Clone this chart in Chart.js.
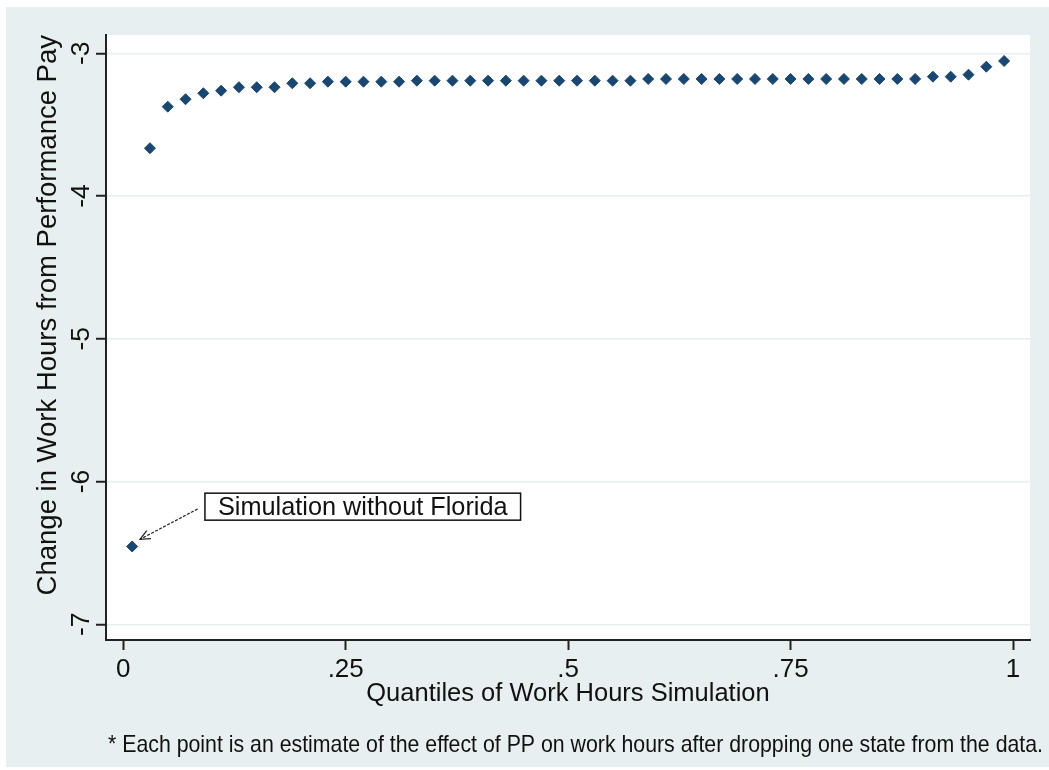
<!DOCTYPE html>
<html><head><meta charset="utf-8">
<script src="https://cdn.jsdelivr.net/npm/chart.js@4"></script>
<style>
html,body{margin:0;padding:0;background:#fff;}
#wrap{position:absolute;left:6px;top:7px;width:1043px;height:760px;background:#e8eff1;}
canvas{display:block;}
</style></head><body>
<div id="wrap"><canvas id="c" width="1043" height="760"></canvas></div>
<script>
// ---- data ----
const quantiles = [0.01,0.03,0.05,0.07,0.09,0.11,0.13,0.15,0.17,0.19,
                   0.21,0.23,0.25,0.27,0.29,0.31,0.33,0.35,0.37,0.39,
                   0.41,0.43,0.45,0.47,0.49,0.51,0.53,0.55,0.57,0.59,
                   0.61,0.63,0.65,0.67,0.69,0.71,0.73,0.75,0.77,0.79,
                   0.81,0.83,0.85,0.87,0.89,0.91,0.93,0.95,0.97,0.99];
const effects = [-6.455,-3.665,-3.374,-3.322,-3.280,-3.262,-3.238,-3.238,-3.238,-3.210,
                 -3.210,-3.199,-3.199,-3.199,-3.199,-3.199,-3.192,-3.192,-3.192,-3.192,
                 -3.192,-3.192,-3.192,-3.192,-3.192,-3.192,-3.192,-3.192,-3.192,-3.180,
                 -3.180,-3.180,-3.180,-3.180,-3.180,-3.180,-3.180,-3.180,-3.180,-3.180,
                 -3.180,-3.180,-3.180,-3.180,-3.180,-3.164,-3.164,-3.150,-3.094,-3.054];
const xTickValues = [0, 0.25, 0.5, 0.75, 1];
const xTickLabels = ['0', '.25', '.5', '.75', '1'];
const yTickValues = [-7, -6, -5, -4, -3];
const yTickLabels = ['-7', '-6', '-5', '-4', '-3'];
const xAxisTitle = 'Quantiles of Work Hours Simulation';
const yAxisTitle = 'Change in Work Hours from Performance Pay';
const footnote = '* Each point is an estimate of the effect of PP on work hours after dropping one state from the data.';
const noteText = 'Simulation without Florida';

// ---- annotation placement (data coordinates) ----
const notePlace = { boxX: 0.0918, boxY: -6.176, fromX: 0.0836, fromY: -6.192, toX: 0.0188, toY: -6.405 };

const FONT = '"Liberation Sans", Arial, sans-serif';
const INK = '#111';
const MARK = '#1a476f';

const plotBg = {
  id: 'plotBg',
  beforeDraw(chart) {
    const { ctx, chartArea: a } = chart;
    ctx.save();
    ctx.fillStyle = '#ffffff';
    ctx.fillRect(a.left, a.top, a.right - a.left, a.bottom - a.top);
    ctx.restore();
  }
};

const footNote = {
  id: 'footNote',
  afterDraw(chart) {
    const { ctx, chartArea: a } = chart;
    ctx.save();
    ctx.font = '24px ' + FONT;
    ctx.fillStyle = INK;
    ctx.textAlign = 'left';
    ctx.textBaseline = 'middle';
    ctx.fillText(footnote, a.left + 2, chart.height - 22, 935);
    ctx.restore();
  }
};

const noteBox = {
  id: 'noteBox',
  afterDatasetsDraw(chart) {
    const { ctx, scales: { x, y } } = chart;
    ctx.save();
    // arrow
    const x1 = x.getPixelForValue(notePlace.fromX), y1 = y.getPixelForValue(notePlace.fromY);
    const x2 = x.getPixelForValue(notePlace.toX), y2 = y.getPixelForValue(notePlace.toY);
    ctx.strokeStyle = '#222';
    ctx.lineWidth = 1.2;
    ctx.setLineDash([3, 1.5]);
    ctx.beginPath(); ctx.moveTo(x1, y1); ctx.lineTo(x2, y2); ctx.stroke();
    ctx.setLineDash([]);
    const ang = Math.atan2(y2 - y1, x2 - x1), L = 11, spread = 0.42;
    ctx.beginPath();
    ctx.moveTo(x2 - L * Math.cos(ang - spread), y2 - L * Math.sin(ang - spread));
    ctx.lineTo(x2, y2);
    ctx.lineTo(x2 - L * Math.cos(ang + spread), y2 - L * Math.sin(ang + spread));
    ctx.stroke();
    // box + text
    ctx.font = '25.3px ' + FONT;
    const tw = ctx.measureText(noteText).width;
    const bx = x.getPixelForValue(notePlace.boxX), by = y.getPixelForValue(notePlace.boxY);
    const pad = 13, bh = 27;
    ctx.fillStyle = '#fff';
    ctx.fillRect(bx, by - bh / 2, tw + 2 * pad, bh);
    ctx.strokeStyle = '#111';
    ctx.lineWidth = 1.5;
    ctx.strokeRect(bx, by - bh / 2, tw + 2 * pad, bh);
    ctx.fillStyle = INK;
    ctx.textBaseline = 'middle';
    ctx.textAlign = 'left';
    ctx.fillText(noteText, bx + pad, by + 1);
    ctx.restore();
  }
};

new Chart(document.getElementById('c'), {
  type: 'scatter',
  data: {
    datasets: [{
      data: quantiles.map((q, i) => ({ x: q, y: effects[i] })),
      pointStyle: 'rectRot',
      pointRadius: 5.5,
      pointBorderWidth: 1,
      backgroundColor: MARK,
      borderColor: MARK
    }]
  },
  options: {
    responsive: false,
    devicePixelRatio: 1,
    animation: false,
    layout: { padding: { left: 0, right: 19, top: 28, bottom: 0 } },
    plugins: {
      legend: { display: false },
      tooltip: { enabled: false },
      title: { display: false }
    },
    scales: {
      x: {
        type: 'linear', min: -0.0194, max: 1.0191,
        afterBuildTicks(s) { s.ticks = xTickValues.map(v => ({ value: v })); },
        afterFit(s) { s.height = 127; },
        ticks: {
          autoSkip: false, maxRotation: 0, minRotation: 0, padding: 4, color: INK,
          font: { family: FONT, size: 26 },
          callback: v => xTickLabels[xTickValues.indexOf(v)]
        },
        grid: { display: true, drawOnChartArea: false, drawTicks: true, tickLength: 10, tickColor: '#222', tickWidth: 2 },
        border: { display: true, color: '#222', width: 2 },
        title: { display: true, text: xAxisTitle, color: INK, font: { family: FONT, size: 25.5 }, padding: { top: 0, bottom: 57.5 } }
      },
      y: {
        type: 'linear', min: -7.11, max: -2.872,
        afterBuildTicks(s) { s.ticks = yTickValues.map(v => ({ value: v })); },
        afterFit(s) { s.width = 100; },
        ticks: {
          autoSkip: false, minRotation: 90, maxRotation: 90, crossAlign: 'center', padding: 3, color: INK,
          font: { family: FONT, size: 26.5 },
          callback: v => yTickLabels[yTickValues.indexOf(v)]
        },
        grid: { color: '#e6eef0', lineWidth: 1.5, drawTicks: true, tickLength: 10, tickColor: '#222', tickWidth: 2 },
        border: { display: true, color: '#222', width: 2 },
        title: { display: true, text: yAxisTitle, align: 'end', color: INK, font: { family: FONT, size: 27.5 }, padding: { top: 26, bottom: 0 } }
      }
    }
  },
  plugins: [plotBg, noteBox, footNote]
});
</script>
</body></html>
